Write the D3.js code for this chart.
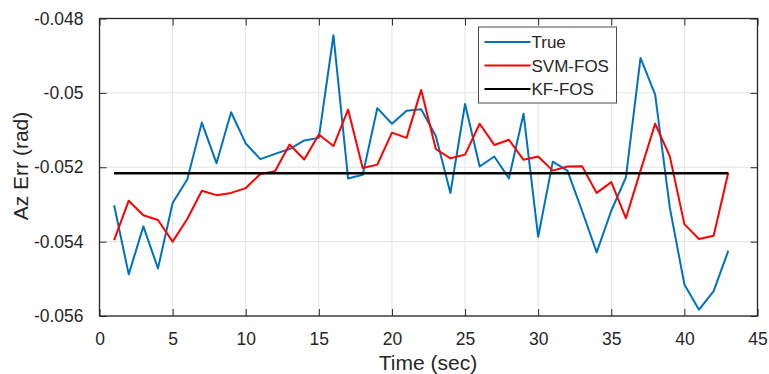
<!DOCTYPE html>
<html>
<head>
<meta charset="utf-8">
<style>
  body { margin: 0; background: #fff; }
  svg text { font-family: "Liberation Sans", Arial, sans-serif; fill: #262626; }
</style>
</head>
<body>
<div id="chart"></div>
<script src="https://cdn.jsdelivr.net/npm/d3@7"></script>
<script>
// time axis, 1..43 s
var time = d3.range(1, 44);

var trueErr = [-0.05302, -0.05488, -0.05359, -0.05472, -0.05296, -0.05233, -0.05080, -0.05189, -0.05052, -0.05136,
  -0.05178, -0.05164, -0.05151, -0.05128, -0.05121, -0.04845, -0.05230, -0.05220, -0.05041, -0.05083,
  -0.05048, -0.05044, -0.05116, -0.05269, -0.05030, -0.05198, -0.05171, -0.05230, -0.05056, -0.05387,
  -0.05185, -0.05209, -0.05317, -0.05429, -0.05317, -0.05227, -0.04906, -0.05005, -0.05308, -0.05515,
  -0.05583, -0.05533, -0.05425];

var svmErr = [-0.05396, -0.05290, -0.05329, -0.05342, -0.05400, -0.05339, -0.05263, -0.05275, -0.05269, -0.05256,
  -0.05218, -0.05211, -0.05139, -0.05179, -0.05112, -0.05143, -0.05045, -0.05202, -0.05193, -0.05107,
  -0.05121, -0.04992, -0.05151, -0.05176, -0.05166, -0.05083, -0.05140, -0.05126, -0.05180, -0.05171,
  -0.05209, -0.05198, -0.05197, -0.05269, -0.05240, -0.05337, -0.05209, -0.05083, -0.05170, -0.05353,
  -0.05393, -0.05384, -0.05215];

var kfErr = time.map(function () { return -0.05216; });

var xTicks = [0, 5, 10, 15, 20, 25, 30, 35, 40, 45];
var yTicks = [-0.048, -0.05, -0.052, -0.054, -0.056];
var yTickText = ["-0.048", "-0.05", "-0.052", "-0.054", "-0.056"];

var seriesNames = ["True", "SVM-FOS", "KF-FOS"];
var seriesColors = ["#0072BD", "#FF0000", "#000000"];

var W = 769, H = 374;
var margin = {top: 18.5, right: 11.5, bottom: 58, left: 99.5};
var width = W - margin.left - margin.right,
    height = H - margin.top - margin.bottom;

var svg = d3.select("#chart").append("svg")
  .attr("width", W).attr("height", H);
var g = svg.append("g")
  .attr("transform", "translate(" + margin.left + "," + margin.top + ")");

var x = d3.scaleLinear().domain([0, 45]).range([0, width]);
var y = d3.scaleLinear().domain([-0.056, -0.048]).range([height, 0]);

// grid
g.selectAll(".vgrid").data(xTicks).enter().append("line")
  .attr("x1", function (d) { return x(d); }).attr("x2", function (d) { return x(d); })
  .attr("y1", 0).attr("y2", height)
  .attr("stroke", "#e3e3e3").attr("stroke-width", 1);
g.selectAll(".hgrid").data(yTicks).enter().append("line")
  .attr("y1", function (d) { return y(d); }).attr("y2", function (d) { return y(d); })
  .attr("x1", 0).attr("x2", width)
  .attr("stroke", "#e3e3e3").attr("stroke-width", 1);

// series
var allSeries = [trueErr, svmErr, kfErr];
var line = d3.line()
  .x(function (d, i) { return x(time[i]); })
  .y(function (d) { return y(d); });

allSeries.forEach(function (s, k) {
  g.append("path")
    .datum(s)
    .attr("fill", "none")
    .attr("stroke", seriesColors[k])
    .attr("stroke-width", k == 2 ? 2.4 : 2)
    .attr("stroke-linejoin", "round")
    .attr("d", line);
});

// axes, MATLAB style: ticks inward on all four sides
var tickLen = 7;
g.append("g").attr("transform", "translate(0," + height + ")")
  .call(d3.axisBottom(x).tickValues(xTicks).tickSizeInner(-tickLen).tickSizeOuter(0).tickPadding(tickLen + 10))
  .call(function (a) { a.select(".domain").remove(); });
g.append("g")
  .call(d3.axisTop(x).tickValues(xTicks).tickSizeInner(-tickLen).tickSizeOuter(0).tickFormat(""))
  .call(function (a) { a.select(".domain").remove(); });
g.append("g")
  .call(d3.axisLeft(y).tickValues(yTicks).tickSizeInner(-tickLen).tickSizeOuter(0).tickPadding(tickLen + 9)
    .tickFormat(function (d, i) { return yTickText[i]; }))
  .call(function (a) { a.select(".domain").remove(); });
g.append("g").attr("transform", "translate(" + width + ",0)")
  .call(d3.axisRight(y).tickValues(yTicks).tickSizeInner(-tickLen).tickSizeOuter(0).tickFormat(""))
  .call(function (a) { a.select(".domain").remove(); });

g.selectAll(".tick line").attr("stroke", "#262626");
g.selectAll(".tick text")
  .attr("font-size", "17.5px")
  .attr("font-family", "Liberation Sans, Arial, sans-serif")
  .attr("fill", "#262626");

g.append("rect")
  .attr("width", width).attr("height", height)
  .attr("fill", "none").attr("stroke", "#262626").attr("stroke-width", 1.3);

// axis labels
svg.append("text")
  .attr("x", margin.left + width / 2 - 0.5)
  .attr("y", 370)
  .attr("text-anchor", "middle")
  .attr("font-size", "21px")
  .text("Time (sec)");

svg.append("text")
  .attr("transform", "translate(28,166) rotate(-90)")
  .attr("text-anchor", "middle")
  .attr("font-size", "21px")
  .text("Az Err (rad)");

// legend
var leg = svg.append("g").attr("transform", "translate(478.5,27)");
leg.append("rect")
  .attr("width", 138).attr("height", 76)
  .attr("fill", "#fff").attr("stroke", "#4d4d4d").attr("stroke-width", 1);
seriesNames.forEach(function (name, k) {
  var ry = 15 + k * 23.5;
  leg.append("line")
    .attr("x1", 6).attr("x2", 52).attr("y1", ry).attr("y2", ry)
    .attr("stroke", seriesColors[k]).attr("stroke-width", 2);
  leg.append("text")
    .attr("x", 53).attr("y", ry + 6)
    .attr("font-size", "17px")
    .text(name);
});
</script>
</body>
</html>
